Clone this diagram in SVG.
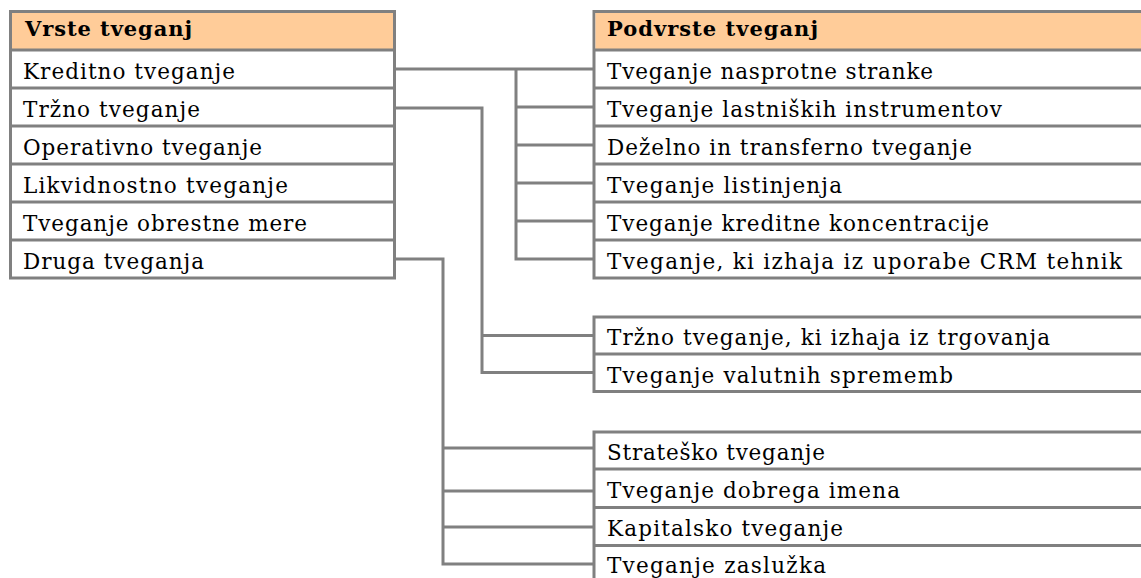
<svg xmlns="http://www.w3.org/2000/svg" width="1141" height="578" viewBox="0 0 1141 578">
<style>
.frame{fill:#ffffff;stroke:#808080;stroke-width:3}
.head{fill:#ffcc99;stroke:none}
.sep{stroke:#808080;stroke-width:3}
.t{font-family:"DejaVu Serif","Liberation Serif",serif;font-size:21.5px;fill:#000000}
.h{font-family:"DejaVu Serif","Liberation Serif",serif;font-size:21px;font-weight:bold;fill:#000000}
.conn{fill:none;stroke:#808080;stroke-width:3;stroke-linejoin:miter}
</style>
<rect x="0" y="0" width="1141" height="578" fill="#ffffff"/>
<g id="connectors">
<path class="conn" d="M394.5 69 H594"/>
<path class="conn" d="M594 259 H516 V69"/>
<path class="conn" d="M516 107 H594 M516 145 H594 M516 183 H594 M516 221 H594"/>
<path class="conn" d="M394.5 108 H482 V372.5 H594 M482 335.5 H594"/>
<path class="conn" d="M394.5 259 H443 V564 H594 M443 448 H594 M443 491 H594 M443 527 H594"/>
</g>
<g id="vrste-tveganj">
<rect class="frame" x="10.5" y="11.5" width="384" height="266.5"/>
<rect class="head" x="12" y="13" width="381" height="36"/>
<path class="sep" d="M10.5 50 H394.5 M10.5 88 H394.5 M10.5 126 H394.5 M10.5 164 H394.5 M10.5 202 H394.5 M10.5 240 H394.5"/>
<text class="h" x="25" y="36" textLength="167" lengthAdjust="spacing">Vrste tveganj</text>
<text class="t" x="23" y="79" textLength="212" lengthAdjust="spacing">Kreditno tveganje</text>
<text class="t" x="23" y="117" textLength="177" lengthAdjust="spacing">Tržno tveganje</text>
<text class="t" x="23" y="155" textLength="239" lengthAdjust="spacing">Operativno tveganje</text>
<text class="t" x="23" y="193" textLength="265" lengthAdjust="spacing">Likvidnostno tveganje</text>
<text class="t" x="23" y="231" textLength="284" lengthAdjust="spacing">Tveganje obrestne mere</text>
<text class="t" x="23" y="269" textLength="181" lengthAdjust="spacing">Druga tveganja</text>
</g>
<g id="podvrste-kreditno">
<rect class="frame" x="594" y="11.5" width="600" height="266.5"/>
<rect class="head" x="595.5" y="13" width="600" height="36"/>
<path class="sep" d="M594 50 H1194 M594 88 H1194 M594 126 H1194 M594 164 H1194 M594 202 H1194 M594 240 H1194"/>
<text class="h" x="607" y="36" textLength="211" lengthAdjust="spacing">Podvrste tveganj</text>
<text class="t" x="607" y="79" textLength="326" lengthAdjust="spacing">Tveganje nasprotne stranke</text>
<text class="t" x="607" y="117" textLength="395" lengthAdjust="spacing">Tveganje lastniških instrumentov</text>
<text class="t" x="607" y="155" textLength="365" lengthAdjust="spacing">Deželno in transferno tveganje</text>
<text class="t" x="607" y="193" textLength="235" lengthAdjust="spacing">Tveganje listinjenja</text>
<text class="t" x="607" y="231" textLength="382" lengthAdjust="spacing">Tveganje kreditne koncentracije</text>
<text class="t" x="607" y="269" textLength="515" lengthAdjust="spacing">Tveganje, ki izhaja iz uporabe CRM tehnik</text>
</g>
<g id="podvrste-trzno">
<rect class="frame" x="594" y="317" width="600" height="74.5"/>
<path class="sep" d="M594 354 H1194"/>
<text class="t" x="607" y="345" textLength="443" lengthAdjust="spacing">Tržno tveganje, ki izhaja iz trgovanja</text>
<text class="t" x="607" y="382.5" textLength="346" lengthAdjust="spacing">Tveganje valutnih sprememb</text>
</g>
<g id="podvrste-druga">
<rect class="frame" x="594" y="432" width="600" height="151.5"/>
<path class="sep" d="M594 469 H1194 M594 507.5 H1194 M594 545.5 H1194"/>
<text class="t" x="607" y="459.5" textLength="218" lengthAdjust="spacing">Strateško tveganje</text>
<text class="t" x="607" y="497.5" textLength="293" lengthAdjust="spacing">Tveganje dobrega imena</text>
<text class="t" x="607" y="535.5" textLength="236" lengthAdjust="spacing">Kapitalsko tveganje</text>
<text class="t" x="607" y="573" textLength="219" lengthAdjust="spacing">Tveganje zaslužka</text>
</g>
</svg>
